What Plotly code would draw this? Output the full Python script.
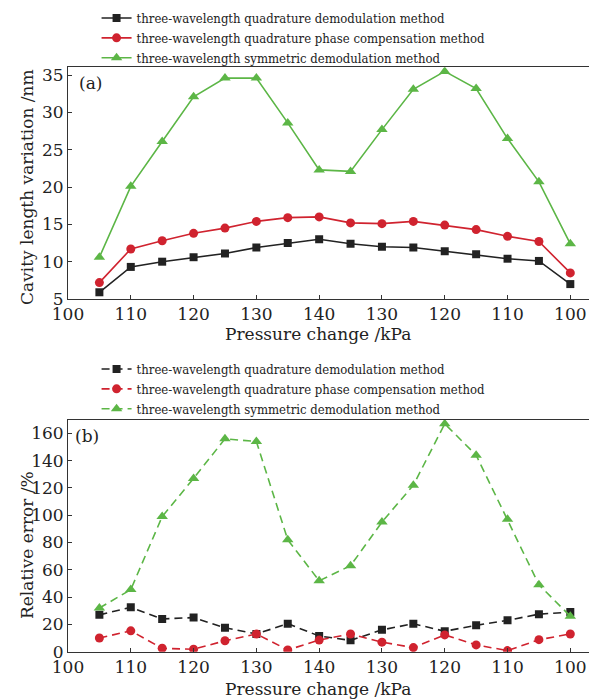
import plotly.graph_objects as go

# x-axis: loading/unloading sequence of pressure changes (kPa)
pressure_steps = [105, 110, 115, 120, 125, 130, 135, 140, 135, 130, 125, 120, 115, 110, 105, 100]
tick_labels = ["100", "110", "120", "130", "140", "130", "120", "110", "100"]

series_names = [
    "three-wavelength quadrature demodulation method",
    "three-wavelength quadrature phase compensation method",
    "three-wavelength symmetric demodulation method",
]

# (a) cavity length variation /nm
cav_quadrature = [5.9, 9.3, 10.0, 10.6, 11.1, 11.9, 12.5, 13.0, 12.4, 12.0, 11.9, 11.4, 11.0, 10.4, 10.1, 7.0]
cav_phase_comp = [7.2, 11.7, 12.8, 13.8, 14.5, 15.4, 15.9, 16.0, 15.2, 15.1, 15.4, 14.9, 14.3, 13.4, 12.7, 8.5]
cav_symmetric = [10.6, 20.1, 26.1, 32.1, 34.6, 34.6, 28.6, 22.3, 22.1, 27.7, 33.1, 35.5, 33.2, 26.5, 20.7, 12.4]

# (b) relative error /%
err_quadrature = [27, 32.5, 24, 25, 17.5, 13, 20.5, 11.5, 8.3, 16, 20.5, 15, 19.3, 23, 27.5, 29]
err_phase_comp = [10, 15.3, 2.5, 1.8, 8, 13, 1.3, 8.5, 13, 7, 3, 12.3, 5, 0.8, 8.8, 13]
err_symmetric = [32, 45.5, 99, 127, 156, 154, 82, 52, 63, 95, 122, 167, 144, 97, 49, 26]

colors = ["#222222", "#d0232f", "#5cb646"]
symbols = ["square", "circle", "triangle-up"]
msizes = [8, 9, 10]

xpos = list(range(1, len(pressure_steps) + 1))
tickpos = list(range(0, 2 * len(tick_labels), 2))

FONT = "DejaVu Serif"
LFONT = "DejaVu Serif Condensed, DejaVu Serif"
TXT = "#222222"
fig = go.Figure()

cav = [cav_quadrature, cav_phase_comp, cav_symmetric]
err = [err_quadrature, err_phase_comp, err_symmetric]
for i in range(3):
    fig.add_trace(go.Scatter(
        x=xpos, y=cav[i], name=series_names[i], mode="lines+markers",
        line=dict(color=colors[i], width=1.6),
        marker=dict(symbol=symbols[i], size=msizes[i], color=colors[i]),
        xaxis="x", yaxis="y", legend="legend",
        customdata=pressure_steps,
    ))
for i in range(3):
    fig.add_trace(go.Scatter(
        x=xpos, y=err[i], name=series_names[i], mode="lines+markers",
        line=dict(color=colors[i], width=1.6, dash="8px,5px"),
        marker=dict(symbol=symbols[i], size=msizes[i], color=colors[i]),
        xaxis="x2", yaxis="y2", legend="legend2",
        customdata=pressure_steps,
    ))

# the page body adds an 8px offset; figure sized to fit the 597x699 window
OFF = 8
W, H = 597 - OFF, 699 - OFF
L = 68 - OFF

def ydom(top_px, bot_px):
    return [1 - (bot_px - OFF) / H, 1 - (top_px - OFF) / H]

axis_common = dict(
    showline=True, linecolor="#333333", linewidth=1,
    ticks="inside", ticklen=4, tickcolor="#333333",
    showgrid=False, zeroline=False, automargin=False,
    tickfont=dict(family=FONT, size=17, color=TXT),
)

xcommon = dict(axis_common, range=[0, 16.85], tickvals=tickpos, ticktext=tick_labels,
               mirror=True, ticklabelstandoff=0)

legend_common = dict(
    font=dict(family=LFONT, size=13, color=TXT),
    bgcolor="rgba(0,0,0,0)", itemwidth=30, tracegroupgap=0,
    xanchor="left", yanchor="top", x=0.054,
)

def title_ann(text, xpx, ypx, angle=0):
    return dict(text=text, textangle=angle, xref="paper", yref="paper",
                x=(xpx - OFF - L) / (W - L), y=1 - (ypx - OFF) / H, showarrow=False,
                xanchor="center", yanchor="middle",
                font=dict(family=FONT, size=17, color=TXT))

fig.update_layout(
    width=W, height=H,
    margin=dict(l=L, r=0, t=0, b=0, autoexpand=False),
    paper_bgcolor="white", plot_bgcolor="white",
    showlegend=True,
    xaxis=dict(xcommon, domain=[0, 1], anchor="y"),
    yaxis=dict(axis_common, domain=ydom(67.3, 299), range=[5, 36.05],
               tickvals=[5, 10, 15, 20, 25, 30, 35], anchor="x"),
    xaxis2=dict(xcommon, domain=[0, 1], anchor="y2"),
    yaxis2=dict(axis_common, domain=ydom(419.7, 651.7), range=[0, 170],
                tickvals=[0, 20, 40, 60, 80, 100, 120, 140, 160], anchor="x2"),
    legend=dict(legend_common, y=1 + 5 / H),
    legend2=dict(legend_common, y=1 - 346 / H),
    annotations=[
        title_ann("Cavity length variation /nm", 27, 187, -90),
        title_ann("Pressure change /kPa", 318, 334),
        title_ann("Relative error /%", 27, 545, -90),
        title_ann("Pressure change /kPa", 318, 689),
        dict(text="(a)", x=0.0416, y=0.931, xref="x domain", yref="y domain",
             xanchor="center", yanchor="middle", showarrow=False,
             font=dict(family=FONT, size=17, color=TXT)),
        dict(text="(b)", x=0.036, y=0.931, xref="x2 domain", yref="y2 domain",
             xanchor="center", yanchor="middle", showarrow=False,
             font=dict(family=FONT, size=17, color=TXT)),
    ],
)

fig.write_html("out.html")
